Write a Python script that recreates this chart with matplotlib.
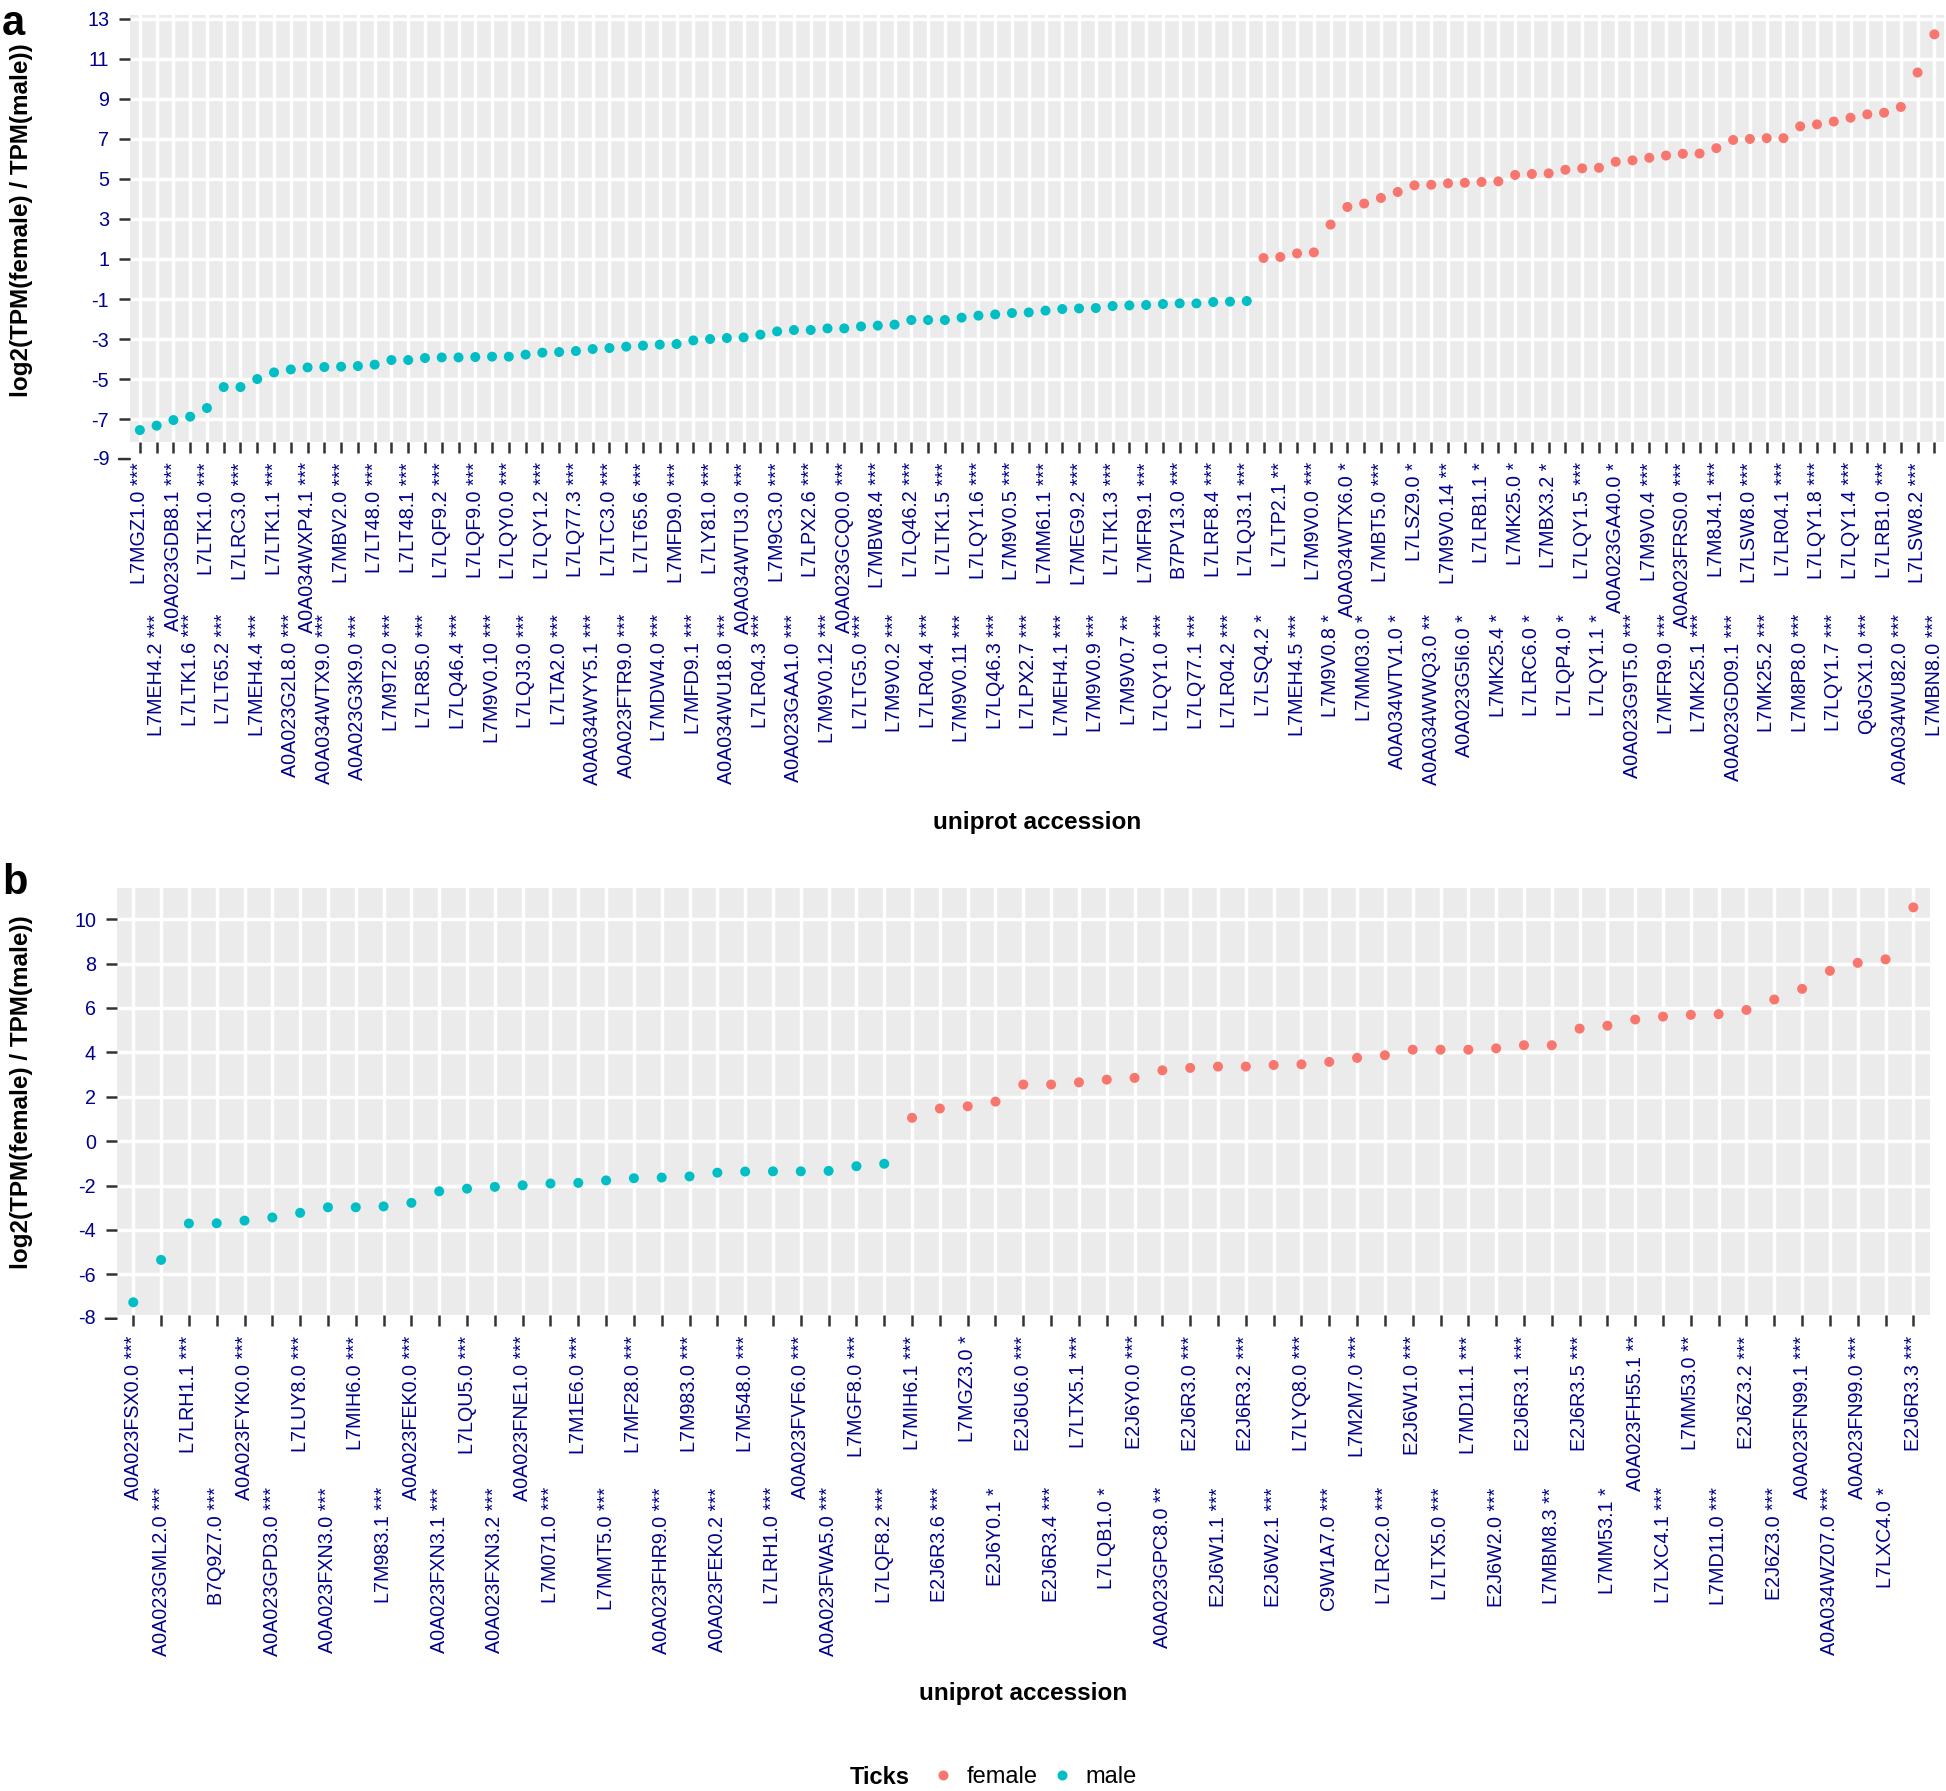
import matplotlib.pyplot as plt
from matplotlib.lines import Line2D

plt.rcParams['font.family'] = ['Liberation Sans', 'DejaVu Sans']
plt.rcParams['axes.unicode_minus'] = False

FEMALE = '#F8766D'
MALE = '#00BFC4'
NAVY = '#00008B'

# panel a: accessions in plot order (sorted by fold change)
a_labels = [
    "L7MGZ1.0 ***", "L7MEH4.2 ***", "A0A023GDB8.1 ***", "L7LTK1.6 ***", "L7LTK1.0 ***",
    "L7LT65.2 ***", "L7LRC3.0 ***", "L7MEH4.4 ***", "L7LTK1.1 ***", "A0A023G2L8.0 ***",
    "A0A034WXP4.1 ***", "A0A034WTX9.0 ***", "L7MBV2.0 ***", "A0A023G3K9.0 ***", "L7LT48.0 ***",
    "L7M9T2.0 ***", "L7LT48.1 ***", "L7LR85.0 ***", "L7LQF9.2 ***", "L7LQ46.4 ***",
    "L7LQF9.0 ***", "L7M9V0.10 ***", "L7LQY0.0 ***", "L7LQJ3.0 ***", "L7LQY1.2 ***",
    "L7LTA2.0 ***", "L7LQ77.3 ***", "A0A034WYY5.1 ***", "L7LTC3.0 ***", "A0A023FTR9.0 ***",
    "L7LT65.6 ***", "L7MDW4.0 ***", "L7MFD9.0 ***", "L7MFD9.1 ***", "L7LY81.0 ***",
    "A0A034WU18.0 ***", "A0A034WTU3.0 ***", "L7LR04.3 ***", "L7M9C3.0 ***", "A0A023GAA1.0 ***",
    "L7LPX2.6 ***", "L7M9V0.12 ***", "A0A023GCQ0.0 ***", "L7LTG5.0 ***", "L7MBW8.4 ***",
    "L7M9V0.2 ***", "L7LQ46.2 ***", "L7LR04.4 ***", "L7LTK1.5 ***", "L7M9V0.11 ***",
    "L7LQY1.6 ***", "L7LQ46.3 ***", "L7M9V0.5 ***", "L7LPX2.7 ***", "L7MM61.1 ***",
    "L7MEH4.1 ***", "L7MEG9.2 ***", "L7M9V0.9 ***", "L7LTK1.3 ***", "L7M9V0.7 **",
    "L7MFR9.1 ***", "L7LQY1.0 ***", "B7PV13.0 ***", "L7LQ77.1 ***", "L7LRF8.4 ***",
    "L7LR04.2 ***", "L7LQJ3.1 ***",
    "L7LSQ4.2 *", "L7LTP2.1 **", "L7MEH4.5 ***", "L7M9V0.0 ***", "L7M9V0.8 *",
    "A0A034WTX6.0 *", "L7MM03.0 *", "L7MBT5.0 ***", "A0A034WTV1.0 *", "L7LSZ9.0 *",
    "A0A034WWQ3.0 **", "L7M9V0.14 **", "A0A023G5I6.0 *", "L7LRB1.1 *", "L7MK25.4 *",
    "L7MK25.0 *", "L7LRC6.0 *", "L7MBX3.2 *", "L7LQP4.0 *", "L7LQY1.5 ***",
    "L7LQY1.1 *", "A0A023GA40.0 *", "A0A023G9T5.0 ***", "L7M9V0.4 ***", "L7MFR9.0 ***",
    "A0A023FRS0.0 ***", "L7MK25.1 ***", "L7M8J4.1 ***", "A0A023GD09.1 ***", "L7LSW8.0 ***",
    "L7MK25.2 ***", "L7LR04.1 ***", "L7M8P8.0 ***", "L7LQY1.8 ***", "L7LQY1.7 ***",
    "L7LQY1.4 ***", "Q6JGX1.0 ***", "L7LRB1.0 ***", "A0A034WU82.0 ***", "L7LSW8.2 ***",
    "L7MBN8.0 ***",
]
a_male = [
    -7.55, -7.33, -7.05, -6.88, -6.45, -5.40, -5.40, -5.00, -4.67, -4.52,
    -4.42, -4.40, -4.38, -4.35, -4.28, -4.05, -4.05, -3.95, -3.92, -3.92,
    -3.90, -3.88, -3.88, -3.78, -3.68, -3.65, -3.60, -3.50, -3.45, -3.38,
    -3.33, -3.28, -3.25, -3.07, -3.00, -2.95, -2.92, -2.78, -2.62, -2.55,
    -2.55, -2.47, -2.47, -2.37, -2.33, -2.28, -2.05, -2.05, -2.05, -1.93,
    -1.83, -1.77, -1.70, -1.67, -1.58, -1.50, -1.47, -1.45, -1.35, -1.32,
    -1.30, -1.25, -1.22, -1.22, -1.15, -1.13, -1.10,
]
a_female = [
    1.05, 1.10, 1.28, 1.33, 2.72, 3.60, 3.77, 4.05, 4.35, 4.68,
    4.71, 4.78, 4.81, 4.85, 4.88, 5.20, 5.25, 5.28, 5.46, 5.53,
    5.56, 5.86, 5.93, 6.06, 6.17, 6.26, 6.27, 6.54, 6.95, 7.00,
    7.04, 7.04, 7.63, 7.73, 7.87, 8.06, 8.23, 8.31, 8.60, 10.32,
    12.23,
]
a_yticks = [-9, -7, -5, -3, -1, 1, 3, 5, 7, 9, 11, 13]

# panel b
b_labels = [
    "A0A023FSX0.0 ***", "A0A023GML2.0 ***", "L7LRH1.1 ***", "B7Q9Z7.0 ***", "A0A023FYK0.0 ***",
    "A0A023GPD3.0 ***", "L7LUY8.0 ***", "A0A023FXN3.0 ***", "L7MIH6.0 ***", "L7M983.1 ***",
    "A0A023FEK0.0 ***", "A0A023FXN3.1 ***", "L7LQU5.0 ***", "A0A023FXN3.2 ***", "A0A023FNE1.0 ***",
    "L7M071.0 ***", "L7M1E6.0 ***", "L7MMT5.0 ***", "L7MF28.0 ***", "A0A023FHR9.0 ***",
    "L7M983.0 ***", "A0A023FEK0.2 ***", "L7M548.0 ***", "L7LRH1.0 ***", "A0A023FVF6.0 ***",
    "A0A023FWA5.0 ***", "L7MGF8.0 ***", "L7LQF8.2 ***",
    "L7MIH6.1 ***", "E2J6R3.6 ***", "L7MGZ3.0 *", "E2J6Y0.1 *", "E2J6U6.0 ***",
    "E2J6R3.4 ***", "L7LTX5.1 ***", "L7LQB1.0 *", "E2J6Y0.0 ***", "A0A023GPC8.0 **",
    "E2J6R3.0 ***", "E2J6W1.1 ***", "E2J6R3.2 ***", "E2J6W2.1 ***", "L7LYQ8.0 ***",
    "C9W1A7.0 ***", "L7M2M7.0 ***", "L7LRC2.0 ***", "E2J6W1.0 ***", "L7LTX5.0 ***",
    "L7MD11.1 ***", "E2J6W2.0 ***", "E2J6R3.1 ***", "L7MBM8.3 **", "E2J6R3.5 ***",
    "L7MM53.1 *", "A0A023FH55.1 **", "L7LXC4.1 ***", "L7MM53.0 **", "L7MD11.0 ***",
    "E2J6Z3.2 ***", "E2J6Z3.0 ***", "A0A023FN99.1 ***", "A0A034WZ07.0 ***", "A0A023FN99.0 ***",
    "L7LXC4.0 *", "E2J6R3.3 ***",
]
b_male = [
    -7.26, -5.35, -3.71, -3.70, -3.58, -3.44, -3.23, -2.98, -2.98, -2.94,
    -2.78, -2.26, -2.14, -2.06, -1.99, -1.91, -1.88, -1.77, -1.67, -1.64,
    -1.59, -1.42, -1.37, -1.36, -1.36, -1.34, -1.13, -1.02,
]
b_female = [
    1.05, 1.47, 1.57, 1.78, 2.55, 2.55, 2.65, 2.77, 2.85, 3.19,
    3.30, 3.36, 3.36, 3.43, 3.46, 3.57, 3.75, 3.87, 4.12, 4.12,
    4.12, 4.18, 4.32, 4.32, 5.07, 5.20, 5.48, 5.61, 5.69, 5.72,
    5.91, 6.38, 6.86, 7.67, 8.03, 8.19, 10.53,
]
b_yticks = [-8, -6, -4, -2, 0, 2, 4, 6, 8, 10]

fig = plt.figure(figsize=(19.46, 17.91), dpi=100)

TICK_LEN = 7.8
PAD = 7
DODGE = 109.2  # second row of labels, in points
FS = 14.2


def panel(rect, labels, male, female, yticks, ylim):
    ax = fig.add_axes(rect)
    n = len(male) + len(female)
    xm = list(range(len(male)))
    xf = list(range(len(male), n))
    ax.scatter(xm, male, s=52, color=MALE, edgecolors='none', zorder=3)
    ax.scatter(xf, female, s=52, color=FEMALE, edgecolors='none', zorder=3)
    ax.set_facecolor('#EBEBEB')
    for s in ax.spines.values():
        s.set_visible(False)
    ax.set_xlim(-0.6, n - 0.4)
    ax.set_ylim(*ylim)
    x = list(range(n))
    ax.set_xticks(x[0::2], labels[0::2], rotation=90)
    ax.set_xticks(x[1::2], labels[1::2], rotation=90, minor=True)
    inside = [t for t in yticks if ylim[0] <= t <= ylim[1]]
    ax.set_yticks(inside, [str(t) for t in inside])
    ax.tick_params(which='both', length=TICK_LEN, width=1.8, color='#333333',
                   labelsize=FS, labelcolor=NAVY, pad=PAD)
    ax.tick_params(axis='x', which='minor', pad=PAD + DODGE)
    ax.grid(True, which='both', axis='x', color='white', lw=2.5)
    ax.grid(True, which='major', axis='y', color='white', lw=2.5)
    ax.set_axisbelow(True)
    # the lowest break is printed just below the grey panel in the original
    tr = ax.get_yaxis_transform()
    for t in yticks:
        if t < ylim[0]:
            ax.annotate(str(t), xy=(0, t), xycoords=tr, xytext=(-(TICK_LEN + PAD), 0),
                        textcoords='offset points', ha='right', va='center',
                        fontsize=FS, color=NAVY, annotation_clip=False)
            ax.annotate('', xy=(0, t), xycoords=tr, xytext=(-TICK_LEN, 0),
                        textcoords='offset points', annotation_clip=False,
                        arrowprops=dict(arrowstyle='-', color='#333333', lw=1.8,
                                        shrinkA=0, shrinkB=0))
    return ax


ax_a = panel([0.0667, 0.7534, 0.9325, 0.2385], a_labels, a_male, a_female, a_yticks, (-8.13, 13.22))
ax_b = panel([0.0599, 0.2658, 0.9319, 0.2386], b_labels, b_male, b_female, b_yticks, (-7.83, 11.42))

ylab = 'log2(TPM(female) / TPM(male))'
fig.text(22 / 1946, 0.877, ylab, rotation=90, ha='center', va='center', fontsize=17.5, fontweight='bold')
fig.text(22 / 1946, 0.390, ylab, rotation=90, ha='center', va='center', fontsize=17.5, fontweight='bold')
fig.text(0.533, 0.541, 'uniprot accession', ha='center', va='center', fontsize=17.5, fontweight='bold')
fig.text(0.5257, 0.0542, 'uniprot accession', ha='center', va='center', fontsize=17.5, fontweight='bold')

fig.text(0.001, 0.9805, 'a', fontsize=30, fontweight='bold', va='baseline')
fig.text(0.001, 0.5008, 'b', fontsize=30, fontweight='bold', va='baseline')

# legend along the bottom
fig.text(0.4368, 0.0078, 'Ticks', ha='left', va='center', fontsize=17, fontweight='bold')
handles = [Line2D([], [], marker='o', ls='none', markersize=7.2, color=FEMALE, markeredgewidth=0),
           Line2D([], [], marker='o', ls='none', markersize=7.2, color=MALE, markeredgewidth=0)]
fig.legend(handles, ['female', 'male'], loc='center left', bbox_to_anchor=(0.4784, 0.0078),
           ncol=2, frameon=False, fontsize=17, handlelength=1.0, handletextpad=0.5,
           columnspacing=0.55, borderpad=0, borderaxespad=0)

fig.savefig('out.png', dpi=100)
